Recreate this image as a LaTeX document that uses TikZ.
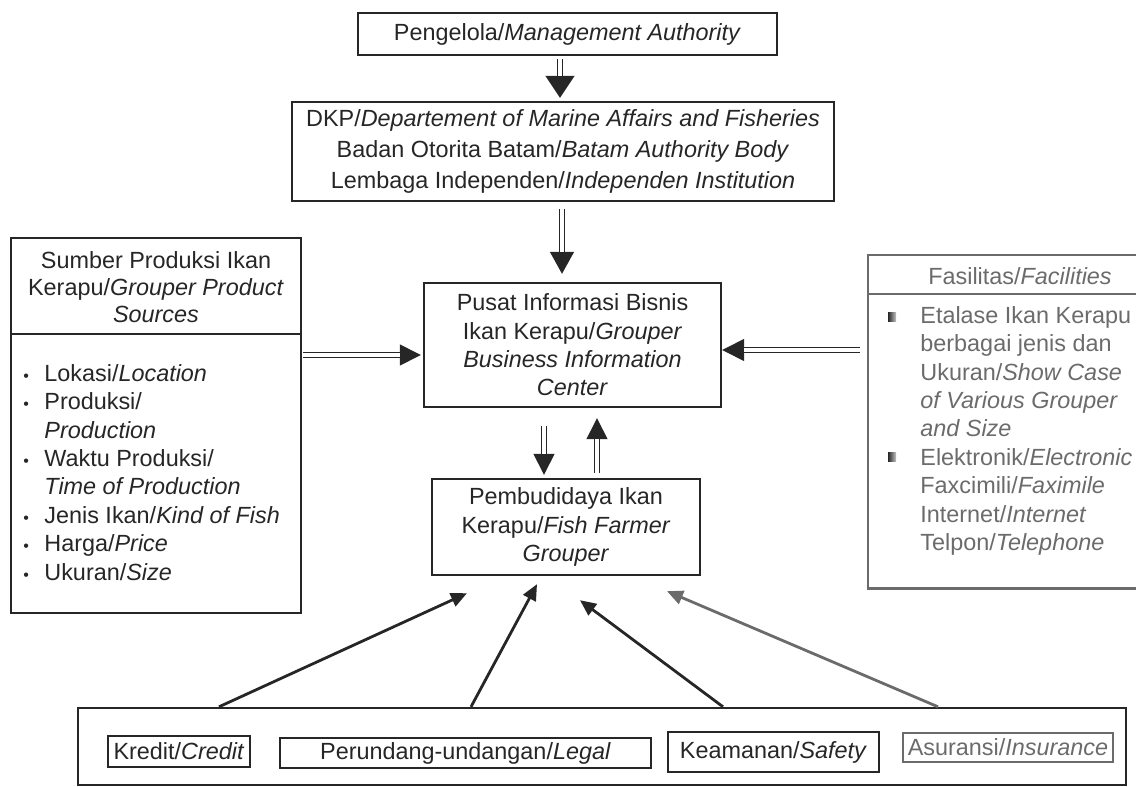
\documentclass[tikz,border=0pt]{standalone}
\usepackage{fontspec}
\setmainfont{Liberation Sans}
\usetikzlibrary{arrows.meta}
\definecolor{ink}{gray}{0.15}
\definecolor{faded}{gray}{0.42}
\newcommand\smbul{{\fontsize{8}{8}\selectfont\textbullet}}
\newcommand\DArrow[6]{%
  \draw[dhead, -{Triangle[length=#3,width=#4]}, shorten <=#1, shorten >=#2] #5 -- #6;
  \draw[dshaft, shorten <=#1, shorten >=#2+#3] #5 -- #6;}
\begin{document}
\begin{tikzpicture}[x=0.5pt,y=-0.5pt,
  every node/.style={font=\fontsize{11.7}{14.2}\selectfont, text=ink},
  box/.style={draw=ink, line width=1.2pt, inner sep=0pt, align=center},
  sbox/.style={draw=ink, line width=1pt, inner sep=0pt, align=center},
  fline/.style={draw=faded, line width=1.1pt},
  arr/.style={draw=ink, line width=1.4pt, -{Triangle[length=8pt,width=7pt]}},
  dshaft/.style={draw=ink, line width=0.7pt, double=white, double distance=1.6pt},
  dhead/.style={draw=ink, line width=0.7pt, fill=ink},
]
\useasboundingbox (0,0) rectangle (1136,787);

% top boxes
\node[box, minimum width=209.5pt, minimum height=21pt] (mgmt) at (567.5,34)
  {Pengelola/\textit{Management Authority}};
\node[box, minimum width=271pt, minimum height=49.5pt, font=\fontsize{11.7}{15.7}\selectfont] (dkp) at (563,151.5)
  {DKP/\textit{Departement of Marine Affairs and Fisheries}\\
   Badan Otorita Batam/\textit{Batam Authority Body}\\
   Lembaga Independen/\textit{Independen Institution}};
\node[box, minimum width=148.5pt, minimum height=62pt] (pusat) at (572.5,345)
  {Pusat Informasi Bisnis\\Ikan Kerapu/\textit{Grouper}\\\textit{Business Information}\\\textit{Center}};
\node[box, minimum width=134pt, minimum height=48pt] (farmer) at (566,527)
  {Pembudidaya Ikan\\Kerapu/\textit{Fish Farmer}\\\textit{Grouper}};

% left box
\node[box, minimum width=145pt, minimum height=187.5pt] (src) at (156,425.5) {};
\draw[draw=ink, line width=1.2pt] (src.west |- 0,334) -- (src.east |- 0,334);
\node[align=center, font=\fontsize{11.7}{13.6}\selectfont] (srchead) at (156,287)
  {Sumber Produksi Ikan\\Kerapu/\textit{Grouper Product}\\\textit{Sources}};
\node[anchor=north west, inner sep=0pt] (srclist) at (23,361)
  {\begin{tabular}{@{}l@{\hspace{7.7pt}}l@{}}
   \smbul & Lokasi/\textit{Location}\\
   \smbul & Produksi/\\
          & \textit{Production}\\
   \smbul & Waktu Produksi/\\
          & \textit{Time of Production}\\
   \smbul & Jenis Ikan/\textit{Kind of Fish}\\
   \smbul & Harga/\textit{Price}\\
   \smbul & Ukuran/\textit{Size}
   \end{tabular}};

% right box (cut off at the right edge)
\node[minimum width=134pt, minimum height=166.5pt, inner sep=0pt] (fac) at (1002,421.5) {};
\draw[fline] (fac.north east) -| (fac.south west) -- (fac.south east);
\draw[fline] (fac.west |- 0,294) -- (fac.east |- 0,294);
\node[text=faded] (fachead) at (1020,276) {Fasilitas/\textit{Facilities}};
\node[anchor=north west, inner sep=0pt, align=left, text=faded] (faclist) at (920,303)
  {\strut Etalase Ikan Kerapu\\berbagai jenis dan\\Ukuran/\textit{Show Case}\\
   \textit{of Various Grouper}\\\textit{and Size}\\Elektronik/\textit{Electronic}\\
   Faxcimili/\textit{Faximile}\\Internet/\textit{Internet}\\Telpon/\textit{Telephone}};
\shade[left color=ink, right color=white!60!faded] (888,312) rectangle (896,321);
\shade[left color=ink, right color=white!60!faded] (888,452) rectangle (896,461);

% bottom box
\node[box, minimum width=524pt, minimum height=38.5pt] (bot) at (602,746.5) {};
\node[sbox, minimum width=71pt, minimum height=15.5pt] (kredit) at (179,751.5) {Kredit/\textit{Credit}};
\node[sbox, minimum width=185.5pt, minimum height=15pt] (legal) at (465.5,753) {Perundang-undangan/\textit{Legal}};
\node[sbox, minimum width=105.5pt, minimum height=20pt] (aman) at (773.5,752) {Keamanan/\textit{Safety}};
\node[sbox, draw=faded, text=faded, minimum width=105pt, minimum height=14.5pt] (asur) at (1008,747.5) {Asuransi/\textit{Insurance}};

% single arrows from the bottom box
\draw[arr] ([xshift=-191.5pt]bot.north) -- ([xshift=-49.5pt,yshift=-8.5pt]farmer.south);
\draw[arr] ([xshift=-65.5pt]bot.north) -- ([xshift=-14.5pt,yshift=-4pt]farmer.south);
\draw[arr] ([xshift=60.5pt]bot.north) -- ([xshift=7pt,yshift=-12pt]farmer.south);
\draw[arr, draw=faded] ([xshift=168pt]bot.north) -- ([xshift=50.5pt,yshift=-7.5pt]farmer.south);

% double arrows
\DArrow{1.5pt}{1.5pt}{11pt}{14.5pt}{([xshift=-3.75pt]mgmt.south)}{([xshift=-1.5pt]dkp.north)}
\DArrow{3.5pt}{4pt}{11pt}{12pt}{([xshift=-0.5pt]dkp.south)}{([xshift=-5.25pt]pusat.north)}
\DArrow{0.5pt}{1pt}{10.5pt}{10.5pt}{([yshift=35.25pt]src.east)}{([yshift=-5pt]pusat.west)}
\DArrow{4pt}{0pt}{11pt}{11pt}{([yshift=35.75pt]fac.west)}{([yshift=-2.5pt]pusat.east)}
\DArrow{9pt}{1.5pt}{10.5pt}{10.5pt}{([xshift=-14.25pt]pusat.south)}{([xshift=-11pt]farmer.north)}
\DArrow{2.5pt}{5pt}{10.5pt}{10.5pt}{([xshift=15.5pt]farmer.north)}{([xshift=12.25pt]pusat.south)}
\end{tikzpicture}
\end{document}
